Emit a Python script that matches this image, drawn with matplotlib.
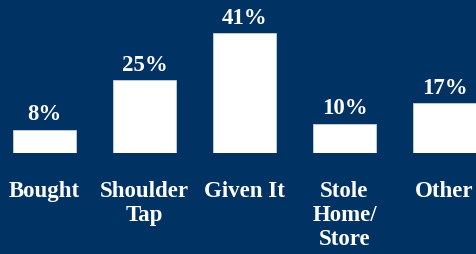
import matplotlib.pyplot as plt

categories = ['Bought', 'Shoulder\nTap', 'Given It', 'Stole\nHome/\nStore', 'Other']
values = [8, 25, 41, 10, 17]
value_labels = ['8%', '25%', '41%', '10%', '17%']

bg = '#003263'

fig = plt.figure(figsize=(4.76, 2.54), dpi=100, facecolor=bg)
ax = fig.add_axes([0, 101 / 254, 1, 153 / 254])
ax.set_facecolor(bg)

x = range(len(categories))
ax.bar(x, values, width=0.63, color='white', edgecolor='#c8d0dc', linewidth=0.6)
for xi, v, lab in zip(x, values, value_labels):
    ax.text(xi, v + 1.5, lab, ha='center', va='bottom', color='white',
            fontsize=16.5, fontweight='bold', family='Liberation Serif')

ax.set_xlim(-0.445, 4.315)
ax.set_ylim(0, 153 / 2.92)
ax.set_xticks(list(x))
ax.set_xticklabels(categories, color='white', fontsize=16.5, fontweight='bold',
                   family='Liberation Serif', linespacing=1.2)
ax.tick_params(axis='x', length=0, pad=20)
ax.set_yticks([])
for s in ax.spines.values():
    s.set_visible(False)

plt.savefig('out.png', dpi=100, facecolor=bg)
